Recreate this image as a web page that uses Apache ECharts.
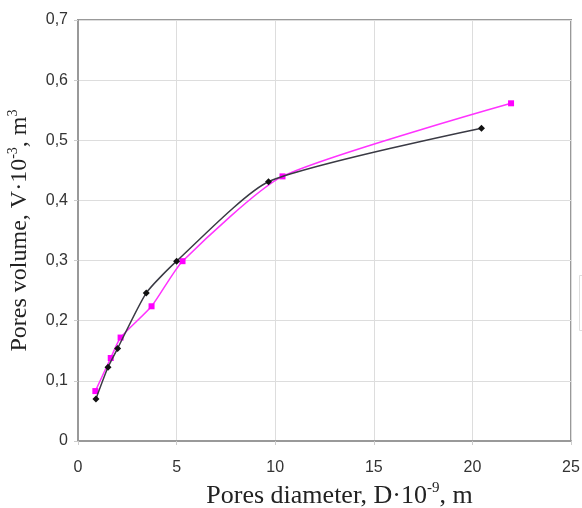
<!DOCTYPE html>
<html>
<head>
<meta charset="utf-8">
<script src="https://cdn.jsdelivr.net/npm/echarts@6/dist/echarts.min.js"></script>
<style>
  html, body { margin: 0; padding: 0; background: #fff; }
  #chart { width: 582px; height: 508px; }
</style>
</head>
<body>
<div id="chart"></div>
<script>
// pores diameter (D·10^-9 m) vs pores volume (V·10^-3 m3), two samples
const blackD = [0.91, 1.52, 2.01, 3.46, 5.0, 9.66, 20.46];
const blackV = [0.070, 0.1225, 0.154, 0.246, 0.299, 0.431, 0.520];
const pinkD = [0.88, 1.66, 2.16, 3.73, 5.3, 10.37, 21.96];
const pinkV = [0.083, 0.138, 0.172, 0.224, 0.299, 0.440, 0.5615];

const xTicks = [0, 5, 10, 15, 20, 25];
const yTicks = [0, 0.1, 0.2, 0.3, 0.4, 0.5, 0.6, 0.7];

const pairs = (xs, ys) => xs.map((x, i) => [x, ys[i]]);
const fmtY = v => (v === 0 ? '0' : v.toFixed(1).replace('.', ','));

const chart = echarts.init(document.getElementById('chart'));

// serif axis titles with superscripts
const richFor = (size, sup) => ({
  t: { fontFamily: 'Liberation Serif', fontSize: size, color: '#222', lineHeight: size + 4 },
  s: { fontFamily: 'Liberation Serif', fontSize: sup, color: '#222', verticalAlign: 'top', lineHeight: sup }
});

const axisCommon = {
  type: 'value',
  axisLine: { show: true, lineStyle: { color: '#999', width: 2 } },
  axisTick: { show: true, length: 4, lineStyle: { color: '#ccc' } },
  splitLine: { show: true, lineStyle: { color: '#ddd', width: 1 } },
  axisLabel: {
    fontFamily: 'Liberation Sans',
    fontSize: 16,
    color: '#333'
  }
};

chart.setOption({
  animation: false,
  backgroundColor: '#fff',
  grid: {
    left: 78, right: 11, top: 20, bottom: 67,
    containLabel: false,
    outerBoundsMode: 'none',
    show: true, borderColor: '#999', borderWidth: 2
  },
  xAxis: Object.assign({}, axisCommon, {
    min: xTicks[0],
    max: xTicks[xTicks.length - 1],
    interval: 5,
    axisLabel: Object.assign({}, axisCommon.axisLabel, { margin: 19 }),
    name: '{t|Pores diameter, D·10}{s|-9}{t|, m}',
    nameLocation: 'middle',
    nameGap: 36,
    nameTextStyle: { rich: richFor(26, 15), padding: [0, 0, 0, 30] }
  }),
  yAxis: Object.assign({}, axisCommon, {
    min: yTicks[0],
    max: yTicks[yTicks.length - 1],
    interval: 0.1,
    axisLabel: Object.assign({}, axisCommon.axisLabel, { margin: 10, formatter: fmtY }),
    name: '{t|Pores volume, V·10}{s|-3}{t|, m}{s|3}',
    nameLocation: 'middle',
    nameRotate: 90,
    nameGap: 44,
    nameTextStyle: { rich: richFor(24, 14) }
  }),
  series: [
    {
      type: 'line',
      data: pairs(blackD, blackV),
      smooth: 0.2,
      symbol: 'diamond',
      symbolSize: 7,
      lineStyle: { color: '#3a3a44', width: 1.5 },
      itemStyle: { color: '#111' },
      z: 3
    },
    {
      type: 'line',
      data: pairs(pinkD, pinkV),
      smooth: 0.2,
      symbol: 'rect',
      symbolSize: 6,
      lineStyle: { color: '#ff33ff', width: 1.5 },
      itemStyle: { color: '#ff00ff' },
      z: 2
    }
  ],
  graphic: [
    {
      type: 'rect',
      left: 577, top: 273,
      shape: { width: 20, height: 55 },
      style: { fill: 'none', stroke: '#ddd', lineWidth: 1 }
    }
  ]
});
</script>
</body>
</html>
